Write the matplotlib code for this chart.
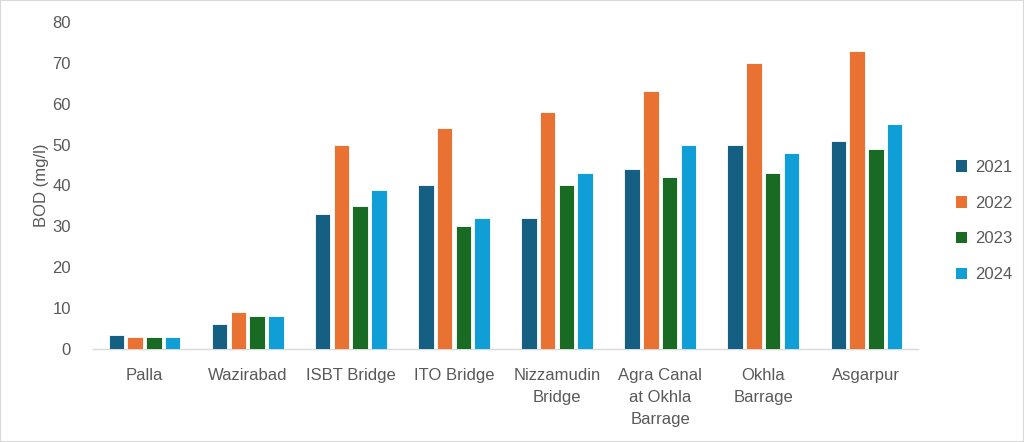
import matplotlib
matplotlib.use("Agg")
import matplotlib.pyplot as plt
import numpy as np
from matplotlib.patches import Rectangle, Patch

categories = ["Palla", "Wazirabad", "ISBT Bridge", "ITO Bridge", "Nizzamudin\nBridge",
              "Agra Canal\nat Okhla\nBarrage", "Okhla\nBarrage", "Asgarpur"]
years = ["2021", "2022", "2023", "2024"]
bod_2021 = [3.5, 6, 33, 40, 32, 44, 50, 51]
bod_2022 = [3, 9, 50, 54, 58, 63, 70, 73]
bod_2023 = [3, 8, 35, 30, 40, 42, 43, 49]
bod_2024 = [3, 8, 39, 32, 43, 50, 48, 55]
series = [bod_2021, bod_2022, bod_2023, bod_2024]
colors = ["#156082", "#E97132", "#196B24", "#0F9ED5"]

plt.rcParams['font.family'] = ['Liberation Sans', 'DejaVu Sans']
text_color = "#595959"

fig = plt.figure(figsize=(10.24, 4.42), dpi=100)
ax = fig.add_axes([93/1024, 1-349/442, (918-93)/1024, (349-22)/442])

x = np.arange(len(categories))
step = 0.182
width = 0.15
for i, (vals, c) in enumerate(zip(series, colors)):
    ax.bar(x + (i - 1.5) * step, vals, width=width, color=c, edgecolor='white', linewidth=0.6, zorder=3)

ax.set_xlim(-0.5, len(categories) - 0.5)
ax.set_ylim(0, 80)
ax.set_yticks(range(0, 81, 10))
ax.set_xticks(x)
ax.set_xticklabels(categories, fontsize=12, color=text_color, linespacing=1.55)
ax.tick_params(axis='both', length=0, labelsize=12, colors=text_color)
ax.tick_params(axis='y', pad=16)
ax.tick_params(axis='x', pad=14)
for s in ['top', 'right', 'left']:
    ax.spines[s].set_visible(False)
ax.spines['bottom'].set_color('#D9D9D9')
ax.spines['bottom'].set_linewidth(1.0)
ax.set_ylabel("BOD (mg/l)", fontsize=12, color=text_color, labelpad=2)

handles = [Patch(facecolor=c, edgecolor='none') for c in colors]
fig.legend(handles, years, loc='center left', bbox_to_anchor=(0.925, 0.50), frameon=False,
           fontsize=12, labelcolor=text_color, handlelength=0.7, handleheight=0.7,
           handletextpad=0.5, labelspacing=1.25, borderpad=0)

fig.patches.append(Rectangle((0, 0), 1, 1, transform=fig.transFigure, fill=False,
                             edgecolor='#D9D9D9', linewidth=1.5))

fig.savefig("out.png", dpi=100, facecolor='white')
